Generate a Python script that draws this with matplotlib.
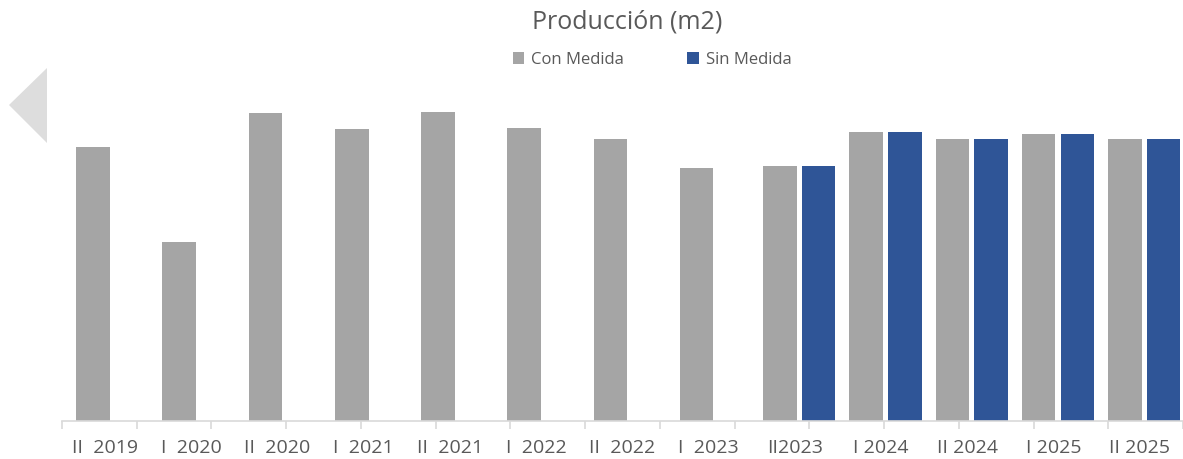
import matplotlib.pyplot as plt
import numpy as np
from matplotlib.patches import Polygon

periods = ['II  2019', 'I  2020', 'II  2020', 'I  2021', 'II  2021', 'I  2022',
           'II  2022', 'I  2023', 'II2023', 'I 2024', 'II 2024', 'I 2025', 'II 2025']
con_medida = [274, 179, 308, 292, 309, 293, 282, 253, 255, 289, 282, 287, 282]
sin_medida = [None, None, None, None, None, None, None, None, 255, 289, 282, 287, 282]

grey = '#A5A5A5'
blue = '#2F5597'
text_col = '#595959'

W, H = 1183, 459
fig = plt.figure(figsize=(W / 100, H / 100), dpi=100)
plt.rcParams['font.family'] = ['Open Sans', 'DejaVu Sans']

# axes spans from x=62 to 1183 px, baseline at y=421 px
ax = fig.add_axes([62 / W, (H - 421) / H, (W - 62) / W, (421 - 100) / H])
x = np.arange(len(periods))
width = 0.39
gap = 0.06

single = [v if s is None else None for v, s in zip(con_medida, sin_medida)]
paired = [v if s is not None else None for v, s in zip(con_medida, sin_medida)]

xs = [i - 0.14 for i, v in zip(x, single) if v is not None]
ax.bar(xs, [v for v in single if v is not None], width, color=grey, label='Con Medida')
xp = [i - (width + gap) / 2 + 0.05 for i, v in zip(x, paired) if v is not None]
ax.bar(xp, [v for v in paired if v is not None], width, color=grey)
xb = [i + (width + gap) / 2 + 0.05 for i, v in zip(x, sin_medida) if v is not None]
ax.bar(xb, [v for v in sin_medida if v is not None], width, color=blue, label='Sin Medida')

ax.set_xlim(-0.5, len(periods) - 0.5)
ax.set_ylim(0, 321)
ax.set_yticks([])
for s in ['top', 'right', 'left']:
    ax.spines[s].set_visible(False)
ax.spines['bottom'].set_color('#D9D9D9')
ax.spines['bottom'].set_linewidth(1.2)

ax.set_xticks(x)
ax.set_xticklabels(periods, fontsize=14, color=text_col)
ax.tick_params(axis='x', length=0, pad=13)
ax.set_xticks(np.linspace(-0.5, len(periods) - 0.5, 16), minor=True)
ax.tick_params(axis='x', which='minor', length=6, color='#D9D9D9', width=1.2)

fig.text(627 / W, 1 - 22 / H, 'Producción (m2)', ha='center', va='center',
         fontsize=18, color=text_col)
fig.legend(loc='center', bbox_to_anchor=(652 / W, 1 - 60 / H), ncol=2, frameon=False,
           fontsize=12, labelcolor=text_col, handlelength=0.7, handleheight=0.7,
           columnspacing=3.8, handletextpad=0.4)

tri = Polygon([(9 / W, 1 - 105 / H), (47 / W, 1 - 68 / H), (47 / W, 1 - 143 / H)],
              closed=True, transform=fig.transFigure, color='#DDDDDD', lw=0)
fig.patches.append(tri)

fig.savefig('out.png', dpi=100)
